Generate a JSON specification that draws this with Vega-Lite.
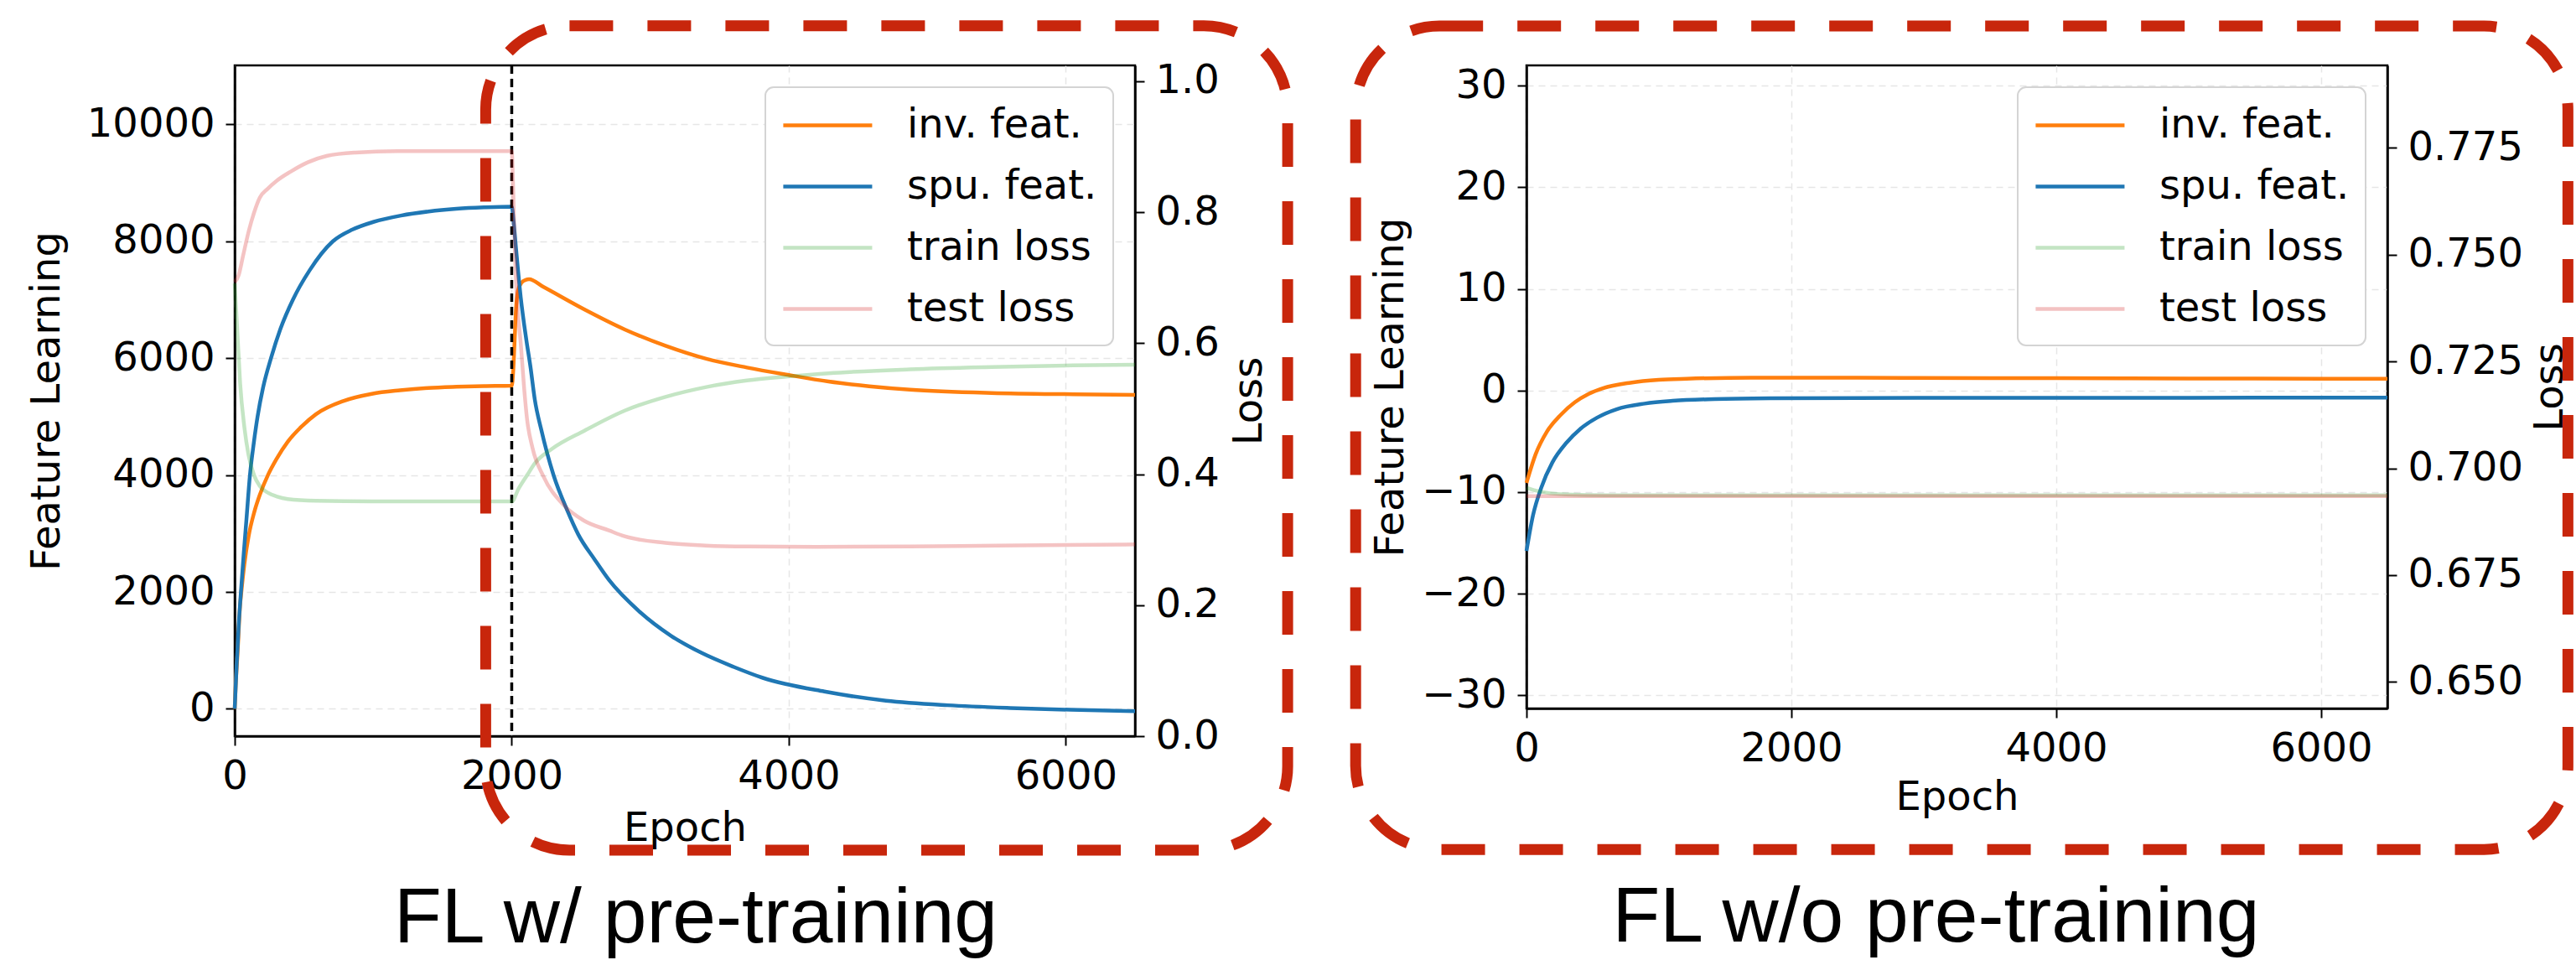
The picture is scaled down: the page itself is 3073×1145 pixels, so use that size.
{
  "$schema": "https://vega.github.io/schema/vega-lite/v6.json",
  "background": "white",
  "padding": {"left": 31, "top": 22, "right": 0, "bottom": 0},
  "spacing": 65,
  "resolve": {"scale": {"color": "independent", "opacity": "independent"}},
  "config": {
    "font": "DejaVu Sans",
    "view": {"stroke": "#000000", "strokeWidth": 2.5},
    "axis": {
      "labelFont": "DejaVu Sans", "titleFont": "DejaVu Sans",
      "labelFontSize": 48, "titleFontSize": 48, "titleFontWeight": "normal",
      "labelColor": "#000000", "titleColor": "#000000",
      "tickColor": "#000000", "domainColor": "#000000",
      "tickSize": 11, "tickWidth": 2, "domainWidth": 2.5, "labelPadding": 13,
      "gridColor": "#e6e6e6", "gridDash": [8, 6], "gridWidth": 1.5,
      "labelFlush": false, "labelOverlap": false, "labelBound": false
    },
    "line": {"interpolate": "monotone", "strokeWidth": 4.5},
    "legend": {
      "orient": "top-right", "offset": 26,
      "symbolType": "M-1,0L3.4,0", "symbolSize": 2323, "symbolStrokeWidth": 5,
      "labelFont": "DejaVu Sans", "labelFontSize": 48, "labelColor": "#000000", "labelLimit": 0,
      "labelOffset": 97, "padding": 19, "rowPadding": 22,
      "fillColor": "#ffffff", "strokeColor": "#d4d4d4", "strokeWidth": 2, "cornerRadius": 10
    }
  },
  "datasets": {
    "pre_feat": [
      {"series": "inv. feat.", "epoch": 0, "value": 0},
      {"series": "inv. feat.", "epoch": 8, "value": 450},
      {"series": "inv. feat.", "epoch": 19, "value": 894},
      {"series": "inv. feat.", "epoch": 39, "value": 1776},
      {"series": "inv. feat.", "epoch": 48, "value": 2000},
      {"series": "inv. feat.", "epoch": 70, "value": 2480},
      {"series": "inv. feat.", "epoch": 100, "value": 2950},
      {"series": "inv. feat.", "epoch": 141, "value": 3365},
      {"series": "inv. feat.", "epoch": 181, "value": 3660},
      {"series": "inv. feat.", "epoch": 242, "value": 4010},
      {"series": "inv. feat.", "epoch": 302, "value": 4276},
      {"series": "inv. feat.", "epoch": 383, "value": 4570},
      {"series": "inv. feat.", "epoch": 485, "value": 4835},
      {"series": "inv. feat.", "epoch": 586, "value": 5040},
      {"series": "inv. feat.", "epoch": 788, "value": 5270},
      {"series": "inv. feat.", "epoch": 990, "value": 5390},
      {"series": "inv. feat.", "epoch": 1193, "value": 5450},
      {"series": "inv. feat.", "epoch": 1395, "value": 5490},
      {"series": "inv. feat.", "epoch": 1600, "value": 5510},
      {"series": "inv. feat.", "epoch": 1800, "value": 5522},
      {"series": "inv. feat.", "epoch": 2000, "value": 5530},
      {"series": "inv. feat.", "epoch": 2010, "value": 5750},
      {"series": "inv. feat.", "epoch": 2020, "value": 6250},
      {"series": "inv. feat.", "epoch": 2030, "value": 6800},
      {"series": "inv. feat.", "epoch": 2045, "value": 7150},
      {"series": "inv. feat.", "epoch": 2070, "value": 7290},
      {"series": "inv. feat.", "epoch": 2100, "value": 7340},
      {"series": "inv. feat.", "epoch": 2125, "value": 7350},
      {"series": "inv. feat.", "epoch": 2227, "value": 7221},
      {"series": "inv. feat.", "epoch": 2521, "value": 6838},
      {"series": "inv. feat.", "epoch": 2816, "value": 6491},
      {"series": "inv. feat.", "epoch": 3110, "value": 6212},
      {"series": "inv. feat.", "epoch": 3404, "value": 5990},
      {"series": "inv. feat.", "epoch": 3698, "value": 5840},
      {"series": "inv. feat.", "epoch": 3992, "value": 5715},
      {"series": "inv. feat.", "epoch": 4287, "value": 5600},
      {"series": "inv. feat.", "epoch": 4581, "value": 5520},
      {"series": "inv. feat.", "epoch": 4875, "value": 5462},
      {"series": "inv. feat.", "epoch": 5464, "value": 5405},
      {"series": "inv. feat.", "epoch": 6052, "value": 5383},
      {"series": "inv. feat.", "epoch": 6500, "value": 5372},
      {"series": "spu. feat.", "epoch": 0, "value": 0},
      {"series": "spu. feat.", "epoch": 15, "value": 800},
      {"series": "spu. feat.", "epoch": 30, "value": 1480},
      {"series": "spu. feat.", "epoch": 45, "value": 2000},
      {"series": "spu. feat.", "epoch": 65, "value": 2650},
      {"series": "spu. feat.", "epoch": 85, "value": 3250},
      {"series": "spu. feat.", "epoch": 110, "value": 4000},
      {"series": "spu. feat.", "epoch": 135, "value": 4500},
      {"series": "spu. feat.", "epoch": 165, "value": 5000},
      {"series": "spu. feat.", "epoch": 205, "value": 5500},
      {"series": "spu. feat.", "epoch": 262, "value": 6000},
      {"series": "spu. feat.", "epoch": 330, "value": 6500},
      {"series": "spu. feat.", "epoch": 420, "value": 7000},
      {"series": "spu. feat.", "epoch": 540, "value": 7500},
      {"series": "spu. feat.", "epoch": 709, "value": 8000},
      {"series": "spu. feat.", "epoch": 850, "value": 8200},
      {"series": "spu. feat.", "epoch": 1000, "value": 8330},
      {"series": "spu. feat.", "epoch": 1200, "value": 8440},
      {"series": "spu. feat.", "epoch": 1400, "value": 8510},
      {"series": "spu. feat.", "epoch": 1600, "value": 8555},
      {"series": "spu. feat.", "epoch": 1800, "value": 8580},
      {"series": "spu. feat.", "epoch": 2000, "value": 8593},
      {"series": "spu. feat.", "epoch": 2015, "value": 8300},
      {"series": "spu. feat.", "epoch": 2030, "value": 7900},
      {"series": "spu. feat.", "epoch": 2065, "value": 7040},
      {"series": "spu. feat.", "epoch": 2105, "value": 6320},
      {"series": "spu. feat.", "epoch": 2136, "value": 5840},
      {"series": "spu. feat.", "epoch": 2166, "value": 5300},
      {"series": "spu. feat.", "epoch": 2213, "value": 4778},
      {"series": "spu. feat.", "epoch": 2302, "value": 3998},
      {"series": "spu. feat.", "epoch": 2400, "value": 3400},
      {"series": "spu. feat.", "epoch": 2480, "value": 2985},
      {"series": "spu. feat.", "epoch": 2600, "value": 2550},
      {"series": "spu. feat.", "epoch": 2702, "value": 2205},
      {"series": "spu. feat.", "epoch": 2924, "value": 1660},
      {"series": "spu. feat.", "epoch": 3150, "value": 1250},
      {"series": "spu. feat.", "epoch": 3369, "value": 959},
      {"series": "spu. feat.", "epoch": 3600, "value": 720},
      {"series": "spu. feat.", "epoch": 3813, "value": 530},
      {"series": "spu. feat.", "epoch": 4257, "value": 296},
      {"series": "spu. feat.", "epoch": 4702, "value": 140},
      {"series": "spu. feat.", "epoch": 5146, "value": 62},
      {"series": "spu. feat.", "epoch": 5600, "value": 15},
      {"series": "spu. feat.", "epoch": 6035, "value": -16},
      {"series": "spu. feat.", "epoch": 6500, "value": -39}
    ],
    "pre_loss": [
      {"series": "train loss", "epoch": 0, "value": 0.691},
      {"series": "train loss", "epoch": 19, "value": 0.6175},
      {"series": "train loss", "epoch": 39, "value": 0.539},
      {"series": "train loss", "epoch": 70, "value": 0.471},
      {"series": "train loss", "epoch": 100, "value": 0.429},
      {"series": "train loss", "epoch": 141, "value": 0.3976},
      {"series": "train loss", "epoch": 181, "value": 0.3818},
      {"series": "train loss", "epoch": 242, "value": 0.3713},
      {"series": "train loss", "epoch": 302, "value": 0.366},
      {"series": "train loss", "epoch": 383, "value": 0.362},
      {"series": "train loss", "epoch": 586, "value": 0.3593},
      {"series": "train loss", "epoch": 990, "value": 0.3583},
      {"series": "train loss", "epoch": 2000, "value": 0.3583},
      {"series": "train loss", "epoch": 2050, "value": 0.378},
      {"series": "train loss", "epoch": 2110, "value": 0.398},
      {"series": "train loss", "epoch": 2169, "value": 0.417},
      {"series": "train loss", "epoch": 2287, "value": 0.438},
      {"series": "train loss", "epoch": 2522, "value": 0.466},
      {"series": "train loss", "epoch": 2816, "value": 0.497},
      {"series": "train loss", "epoch": 3110, "value": 0.518},
      {"series": "train loss", "epoch": 3405, "value": 0.533},
      {"series": "train loss", "epoch": 3698, "value": 0.543},
      {"series": "train loss", "epoch": 3993, "value": 0.549},
      {"series": "train loss", "epoch": 4287, "value": 0.554},
      {"series": "train loss", "epoch": 4875, "value": 0.56},
      {"series": "train loss", "epoch": 5464, "value": 0.5635},
      {"series": "train loss", "epoch": 6052, "value": 0.566},
      {"series": "train loss", "epoch": 6500, "value": 0.567},
      {"series": "test loss", "epoch": 0, "value": 0.693},
      {"series": "test loss", "epoch": 29, "value": 0.704},
      {"series": "test loss", "epoch": 60, "value": 0.733},
      {"series": "test loss", "epoch": 100, "value": 0.77},
      {"series": "test loss", "epoch": 141, "value": 0.8},
      {"series": "test loss", "epoch": 181, "value": 0.822},
      {"series": "test loss", "epoch": 240, "value": 0.836},
      {"series": "test loss", "epoch": 304, "value": 0.848},
      {"series": "test loss", "epoch": 405, "value": 0.862},
      {"series": "test loss", "epoch": 527, "value": 0.876},
      {"series": "test loss", "epoch": 669, "value": 0.886},
      {"series": "test loss", "epoch": 871, "value": 0.891},
      {"series": "test loss", "epoch": 1174, "value": 0.893},
      {"series": "test loss", "epoch": 2000, "value": 0.893},
      {"series": "test loss", "epoch": 2010, "value": 0.84},
      {"series": "test loss", "epoch": 2024, "value": 0.733},
      {"series": "test loss", "epoch": 2040, "value": 0.66},
      {"series": "test loss", "epoch": 2065, "value": 0.6},
      {"series": "test loss", "epoch": 2090, "value": 0.53},
      {"series": "test loss", "epoch": 2110, "value": 0.485},
      {"series": "test loss", "epoch": 2150, "value": 0.44},
      {"series": "test loss", "epoch": 2228, "value": 0.397},
      {"series": "test loss", "epoch": 2374, "value": 0.353},
      {"series": "test loss", "epoch": 2522, "value": 0.329},
      {"series": "test loss", "epoch": 2702, "value": 0.314},
      {"series": "test loss", "epoch": 2816, "value": 0.305},
      {"series": "test loss", "epoch": 3110, "value": 0.295},
      {"series": "test loss", "epoch": 3400, "value": 0.291},
      {"series": "test loss", "epoch": 3698, "value": 0.2895},
      {"series": "test loss", "epoch": 4200, "value": 0.289},
      {"series": "test loss", "epoch": 4875, "value": 0.2896},
      {"series": "test loss", "epoch": 5500, "value": 0.291},
      {"series": "test loss", "epoch": 6500, "value": 0.2927}
    ],
    "nopre_feat": [
      {"series": "inv. feat.", "epoch": 0, "value": -9.1},
      {"series": "inv. feat.", "epoch": 70, "value": -6.24},
      {"series": "inv. feat.", "epoch": 154, "value": -4.05},
      {"series": "inv. feat.", "epoch": 259, "value": -2.39},
      {"series": "inv. feat.", "epoch": 365, "value": -1.16},
      {"series": "inv. feat.", "epoch": 470, "value": -0.33},
      {"series": "inv. feat.", "epoch": 576, "value": 0.22},
      {"series": "inv. feat.", "epoch": 786, "value": 0.77},
      {"series": "inv. feat.", "epoch": 998, "value": 1.05},
      {"series": "inv. feat.", "epoch": 1208, "value": 1.16},
      {"series": "inv. feat.", "epoch": 1525, "value": 1.24},
      {"series": "inv. feat.", "epoch": 1841, "value": 1.25},
      {"series": "inv. feat.", "epoch": 2500, "value": 1.25},
      {"series": "inv. feat.", "epoch": 3500, "value": 1.22},
      {"series": "inv. feat.", "epoch": 4500, "value": 1.2},
      {"series": "inv. feat.", "epoch": 5500, "value": 1.17},
      {"series": "inv. feat.", "epoch": 6500, "value": 1.15},
      {"series": "spu. feat.", "epoch": 0, "value": -15.8},
      {"series": "spu. feat.", "epoch": 49, "value": -12.3},
      {"series": "spu. feat.", "epoch": 112, "value": -9.55},
      {"series": "spu. feat.", "epoch": 196, "value": -7.07},
      {"series": "spu. feat.", "epoch": 302, "value": -5.14},
      {"series": "spu. feat.", "epoch": 407, "value": -3.77},
      {"series": "spu. feat.", "epoch": 533, "value": -2.67},
      {"series": "spu. feat.", "epoch": 681, "value": -1.84},
      {"series": "spu. feat.", "epoch": 892, "value": -1.29},
      {"series": "spu. feat.", "epoch": 1103, "value": -1.02},
      {"series": "spu. feat.", "epoch": 1419, "value": -0.85},
      {"series": "spu. feat.", "epoch": 1841, "value": -0.77},
      {"series": "spu. feat.", "epoch": 2500, "value": -0.74},
      {"series": "spu. feat.", "epoch": 3500, "value": -0.72},
      {"series": "spu. feat.", "epoch": 4500, "value": -0.72},
      {"series": "spu. feat.", "epoch": 5500, "value": -0.71},
      {"series": "spu. feat.", "epoch": 6500, "value": -0.71}
    ],
    "nopre_loss": [
      {"series": "train loss", "epoch": 0, "value": 0.6955},
      {"series": "train loss", "epoch": 70, "value": 0.6948},
      {"series": "train loss", "epoch": 150, "value": 0.6943},
      {"series": "train loss", "epoch": 300, "value": 0.6939},
      {"series": "train loss", "epoch": 600, "value": 0.6937},
      {"series": "train loss", "epoch": 6500, "value": 0.6937},
      {"series": "test loss", "epoch": 0, "value": 0.6935},
      {"series": "test loss", "epoch": 6500, "value": 0.6935}
    ],
    "pre_box": [{"epoch": 1812, "epoch_end": 7602, "value": 1.0845, "value_end": -0.1741}],
    "nopre_box": [{"epoch": -1290, "epoch_end": 7863, "value": 0.8035, "value_end": 0.6108}],
    "marker": [{"epoch": 2000}]
  },
  "hconcat": [
    {
      "width": 1074,
      "height": 800,
      "title": {"text": "FL w/ pre-training", "orient": "bottom", "anchor": "middle", "frame": "group", "font": "Liberation Sans", "fontSize": 93, "fontWeight": "normal", "color": "#000000", "offset": 30, "dx": 13},
      "layer": [
        {
          "layer": [
            {
              "data": {"name": "pre_feat"},
              "mark": {"type": "line"},
              "encoding": {
                "x": {"field": "epoch", "type": "quantitative", "title": "Epoch", "scale": {"domain": [0, 6500], "nice": false, "zero": false}, "axis": {"title": "Epoch", "values": [0, 2000, 4000, 6000], "format": "d", "grid": true, "titlePadding": 14}},
                "y": {"field": "value", "type": "quantitative", "title": "Feature Learning", "scale": {"domain": [-467, 11009], "nice": false, "zero": false}, "axis": {"title": "Feature Learning", "values": [0, 2000, 4000, 6000, 8000, 10000], "format": "d", "grid": true, "titlePadding": 23}},
                "color": {"field": "series", "type": "nominal", "scale": {"domain": ["inv. feat.", "spu. feat.", "train loss", "test loss"], "range": ["#ff7f0e", "#1f77b4", "#2ca02c", "#d62728"]}, "legend": {"title": null}},
                "opacity": {"field": "series", "type": "nominal", "scale": {"type": "ordinal", "domain": ["inv. feat.", "spu. feat.", "train loss", "test loss"], "range": [1, 1, 0.28, 0.28]}, "legend": {"title": null}}
              }
            },
            {
              "data": {"name": "marker"},
              "mark": {"type": "rule", "color": "#000000", "strokeWidth": 3.5, "strokeDash": [10, 6]},
              "encoding": {
                "x": {"field": "epoch", "type": "quantitative", "title": "Epoch", "scale": {"domain": [0, 6500], "nice": false, "zero": false}, "axis": {"title": "Epoch", "values": [0, 2000, 4000, 6000], "format": "d", "grid": true, "titlePadding": 14}}
              }
            }
          ]
        },
        {
          "layer": [
            {
              "data": {"name": "pre_loss"},
              "mark": {"type": "line"},
              "encoding": {
                "x": {"field": "epoch", "type": "quantitative", "title": "Epoch", "scale": {"domain": [0, 6500], "nice": false, "zero": false}, "axis": {"title": "Epoch", "values": [0, 2000, 4000, 6000], "format": "d", "grid": true, "titlePadding": 14}},
                "y": {"field": "value", "type": "quantitative", "title": "Loss", "scale": {"domain": [0, 1.024], "nice": false, "zero": false}, "axis": {"orient": "right", "title": "Loss", "values": [0, 0.2, 0.4, 0.6, 0.8, 1.0], "format": ".1f", "grid": false, "titleAngle": 270, "titleBaseline": "top", "titlePadding": 12}},
                "color": {"field": "series", "type": "nominal", "scale": {"domain": ["inv. feat.", "spu. feat.", "train loss", "test loss"], "range": ["#ff7f0e", "#1f77b4", "#2ca02c", "#d62728"]}, "legend": {"title": null}},
                "opacity": {"field": "series", "type": "nominal", "scale": {"type": "ordinal", "domain": ["inv. feat.", "spu. feat.", "train loss", "test loss"], "range": [1, 1, 0.28, 0.28]}, "legend": {"title": null}}
              }
            },
            {
              "data": {"name": "pre_box"},
              "mark": {"type": "rect", "filled": false, "stroke": "#c8260c", "strokeWidth": 13, "strokeDash": [52, 41], "cornerRadius": 100, "clip": false},
              "encoding": {
                "x": {"field": "epoch", "type": "quantitative", "title": "Epoch", "scale": {"domain": [0, 6500], "nice": false, "zero": false}, "axis": {"title": "Epoch", "values": [0, 2000, 4000, 6000], "format": "d", "grid": true, "titlePadding": 14}},
                "x2": {"field": "epoch_end"},
                "y": {"field": "value", "type": "quantitative", "title": "Loss", "scale": {"domain": [0, 1.024], "nice": false, "zero": false}, "axis": {"orient": "right", "title": "Loss", "values": [0, 0.2, 0.4, 0.6, 0.8, 1.0], "format": ".1f", "grid": false, "titleAngle": 270, "titleBaseline": "top", "titlePadding": 12}},
                "y2": {"field": "value_end"}
              }
            }
          ]
        }
      ],
      "resolve": {"scale": {"y": "independent"}}
    },
    {
      "width": 1027,
      "height": 767,
      "title": {"text": "FL w/o pre-training", "orient": "bottom", "anchor": "middle", "frame": "group", "font": "Liberation Sans", "fontSize": 93, "fontWeight": "normal", "color": "#000000", "offset": 30, "dx": -25},
      "layer": [
        {
          "data": {"name": "nopre_feat"},
          "mark": {"type": "line"},
          "encoding": {
            "x": {"field": "epoch", "type": "quantitative", "title": "Epoch", "scale": {"domain": [0, 6500], "nice": false, "zero": false}, "axis": {"title": "Epoch", "values": [0, 2000, 4000, 6000], "format": "d", "grid": true, "titlePadding": 10}},
            "y": {"field": "value", "type": "quantitative", "title": "Feature Learning", "scale": {"domain": [-31.3, 32], "nice": false, "zero": false}, "axis": {"title": "Feature Learning", "values": [-30, -20, -10, 0, 10, 20, 30], "format": "d", "grid": true, "titlePadding": 12}},
            "color": {"field": "series", "type": "nominal", "scale": {"domain": ["inv. feat.", "spu. feat.", "train loss", "test loss"], "range": ["#ff7f0e", "#1f77b4", "#2ca02c", "#d62728"]}, "legend": {"title": null}},
            "opacity": {"field": "series", "type": "nominal", "scale": {"type": "ordinal", "domain": ["inv. feat.", "spu. feat.", "train loss", "test loss"], "range": [1, 1, 0.28, 0.28]}, "legend": {"title": null}}
          }
        },
        {
          "layer": [
            {
              "data": {"name": "nopre_loss"},
              "mark": {"type": "line"},
              "encoding": {
                "x": {"field": "epoch", "type": "quantitative", "title": "Epoch", "scale": {"domain": [0, 6500], "nice": false, "zero": false}, "axis": {"title": "Epoch", "values": [0, 2000, 4000, 6000], "format": "d", "grid": true, "titlePadding": 10}},
                "y": {"field": "value", "type": "quantitative", "title": "Loss", "scale": {"domain": [0.6438, 0.7943], "nice": false, "zero": false}, "axis": {"orient": "right", "title": "Loss", "values": [0.65, 0.675, 0.7, 0.725, 0.75, 0.775], "format": ".3f", "grid": false, "titleAngle": 270, "titleBaseline": "top", "titlePadding": 9}},
                "color": {"field": "series", "type": "nominal", "scale": {"domain": ["inv. feat.", "spu. feat.", "train loss", "test loss"], "range": ["#ff7f0e", "#1f77b4", "#2ca02c", "#d62728"]}, "legend": {"title": null}},
                "opacity": {"field": "series", "type": "nominal", "scale": {"type": "ordinal", "domain": ["inv. feat.", "spu. feat.", "train loss", "test loss"], "range": [1, 1, 0.28, 0.28]}, "legend": {"title": null}}
              }
            },
            {
              "data": {"name": "nopre_box"},
              "mark": {"type": "rect", "filled": false, "stroke": "#c8260c", "strokeWidth": 13, "strokeDash": [52, 41], "cornerRadius": 100, "clip": false},
              "encoding": {
                "x": {"field": "epoch", "type": "quantitative", "title": "Epoch", "scale": {"domain": [0, 6500], "nice": false, "zero": false}, "axis": {"title": "Epoch", "values": [0, 2000, 4000, 6000], "format": "d", "grid": true, "titlePadding": 10}},
                "x2": {"field": "epoch_end"},
                "y": {"field": "value", "type": "quantitative", "title": "Loss", "scale": {"domain": [0.6438, 0.7943], "nice": false, "zero": false}, "axis": {"orient": "right", "title": "Loss", "values": [0.65, 0.675, 0.7, 0.725, 0.75, 0.775], "format": ".3f", "grid": false, "titleAngle": 270, "titleBaseline": "top", "titlePadding": 9}},
                "y2": {"field": "value_end"}
              }
            }
          ]
        }
      ],
      "resolve": {"scale": {"y": "independent"}}
    }
  ]
}
